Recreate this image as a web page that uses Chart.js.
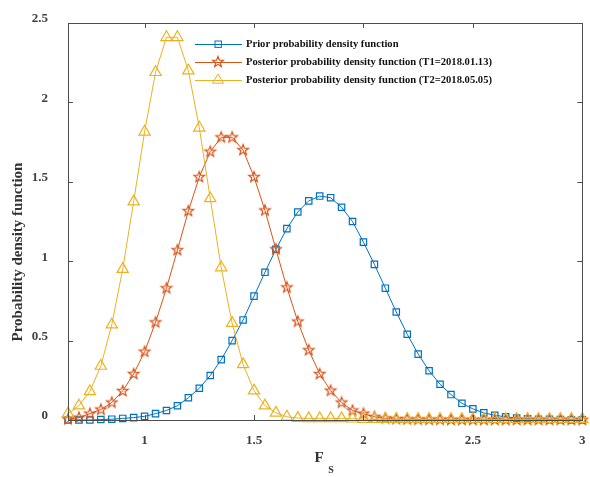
<!DOCTYPE html>
<html>
<head>
<meta charset="utf-8">
<script src="https://cdn.jsdelivr.net/npm/chart.js@4/dist/chart.umd.min.js"></script>
<style>
  html, body { margin: 0; padding: 0; background: #fff; }
  #wrap { width: 590px; height: 477px; position: relative; }
</style>
</head>
<body>
<div id="wrap"><canvas id="pdfChart"></canvas></div>
<script>
// F_S values (x positions of the markers)
var fsValues = [0.65,0.70,0.75,0.80,0.85,0.90,0.95,1.00,1.05,1.10,1.15,1.20,1.25,1.30,1.35,1.40,
                1.45,1.50,1.55,1.60,1.65,1.70,1.75,1.80,1.85,1.90,1.95,2.00,2.05,2.10,2.15,2.20,
                2.25,2.30,2.35,2.40,2.45,2.50,2.55,2.60,2.65,2.70,2.75,2.80,2.85,2.90,2.95,3.00];

var priorPdf = [0.000,0.000,0.000,0.003,0.005,0.010,0.015,0.023,0.040,0.060,0.090,0.140,0.200,0.280,0.380,0.500,
                0.630,0.780,0.930,1.075,1.205,1.310,1.380,1.410,1.400,1.340,1.250,1.120,0.980,0.830,0.680,0.540,
                0.415,0.310,0.225,0.160,0.105,0.070,0.045,0.030,0.020,0.012,0.008,0.005,0.004,0.003,0.002,0.002];

var postT1Pdf = [0.005,0.015,0.040,0.066,0.110,0.183,0.290,0.430,0.615,0.830,1.070,1.316,1.530,1.690,1.780,1.780,
                 1.700,1.530,1.320,1.075,0.835,0.620,0.440,0.290,0.185,0.110,0.060,0.040,0.020,0.010,0.006,0.004,
                 0.003,0.002,0.002,0.001,0.001,0.001,0.001,0.001,0.001,0.001,0.001,0.001,0.001,0.001,0.001,0.001];

var postT2Pdf = [0.040,0.090,0.180,0.340,0.600,0.950,1.375,1.815,2.190,2.410,2.410,2.200,1.840,1.395,0.960,0.610,
                 0.350,0.185,0.090,0.045,0.020,0.012,0.010,0.010,0.010,0.010,0.008,0.006,0.005,0.005,0.005,0.005,
                 0.005,0.005,0.005,0.005,0.005,0.005,0.005,0.005,0.005,0.005,0.005,0.005,0.005,0.005,0.005,0.005];

var seriesNames = ["Prior probability density function",
                   "Posterior probability density function (T1=2018.01.13)",
                   "Posterior probability density function (T2=2018.05.05)"];

var xTicks = [1, 1.5, 2, 2.5, 3];
var yTicks = [0, 0.5, 1, 1.5, 2, 2.5];

var FONT = '"Liberation Serif", "Times New Roman", serif';
var BLUE = '#0072BD', RED = '#D95319', YELLOW = '#EDB120';

function makeStar(color, r) {
    var size = Math.ceil(2 * r + 4);
    var c = document.createElement('canvas');
    c.width = size; c.height = size;
    var g = c.getContext('2d');
    var cx = size / 2, cy = size / 2;
    g.beginPath();
    for (var i = 0; i < 10; i++) {
        var ang = -Math.PI / 2 + i * Math.PI / 5;
        var rr = (i % 2) ? r * 0.42 : r;
        var px = cx + Math.cos(ang) * rr, py = cy + Math.sin(ang) * rr;
        if (i == 0) g.moveTo(px, py); else g.lineTo(px, py);
    }
    g.closePath();
    g.strokeStyle = color;
    g.lineWidth = 1.2;
    g.stroke();
    return c;
}
var starImg = makeStar(RED, 5.6);

function toPoints(ys) {
    return fsValues.map(function (x, i) { return { x: x, y: ys[i] }; });
}

// legend, axis box with inward ticks, axis titles
var matlabPlugin = {
    id: 'matlabLook',
    afterDraw: function (chart) {
        var ctx = chart.ctx, a = chart.chartArea;
        var xs = chart.scales.x, ys = chart.scales.y;
        ctx.save();
        ctx.strokeStyle = '#4d4d4d';
        ctx.lineWidth = 1;
        ctx.strokeRect(Math.round(a.left) + 0.5, Math.round(a.top) + 0.5,
                       Math.round(a.right - a.left), Math.round(a.bottom - a.top));
        ctx.beginPath();
        xTicks.forEach(function (v) {
            var px = Math.round(xs.getPixelForValue(v)) + 0.5;
            ctx.moveTo(px, a.bottom); ctx.lineTo(px, a.bottom - 5);
            ctx.moveTo(px, a.top); ctx.lineTo(px, a.top + 5);
        });
        yTicks.forEach(function (v) {
            var py = Math.round(ys.getPixelForValue(v)) + 0.5;
            ctx.moveTo(a.left, py); ctx.lineTo(a.left + 5, py);
            ctx.moveTo(a.right, py); ctx.lineTo(a.right - 5, py);
        });
        ctx.stroke();

        // axis titles
        ctx.fillStyle = '#333';
        ctx.font = 'bold 15px ' + FONT;
        ctx.textAlign = 'center';
        ctx.textBaseline = 'middle';
        ctx.fillText('F', 319, 458);
        ctx.font = 'bold 10px ' + FONT;
        ctx.fillText('S', 331, 470);
        ctx.save();
        ctx.translate(18, 252);
        ctx.rotate(-Math.PI / 2);
        ctx.font = 'bold 15px ' + FONT;
        ctx.fillText('Probability density function', 0, 0);
        ctx.restore();

        // legend
        var rows = [44, 62, 80];
        var colors = [BLUE, RED, YELLOW];
        ctx.font = 'bold 10.6px ' + FONT;
        ctx.textAlign = 'left';
        for (var i = 0; i < 3; i++) {
            var y = rows[i];
            ctx.strokeStyle = colors[i];
            ctx.lineWidth = 1;
            ctx.beginPath();
            ctx.moveTo(195, y + 0.5); ctx.lineTo(242, y + 0.5);
            ctx.stroke();
            if (i == 0) {
                ctx.strokeRect(215, y - 3, 6.4, 6.4);
            } else if (i == 1) {
                ctx.drawImage(starImg, 218 - starImg.width / 2, y - starImg.height / 2);
            } else {
                ctx.beginPath();
                ctx.moveTo(218, y - 6);
                ctx.lineTo(218 + 5.5, y + 3.2);
                ctx.lineTo(218 - 5.5, y + 3.2);
                ctx.closePath();
                ctx.stroke();
            }
            ctx.fillStyle = '#111';
            ctx.fillText(seriesNames[i], 246, y + 0.5);
        }
        ctx.restore();
    }
};

var pdfChart = null;
function showchart_pdf() {
    if (pdfChart != null) {
        pdfChart.destroy();
    }
    var ctx = document.getElementById('pdfChart');
    pdfChart = new Chart(ctx, {
        type: 'line',
        data: {
            datasets: [{
                label: seriesNames[0],
                data: toPoints(priorPdf),
                borderColor: BLUE,
                borderWidth: 1,
                pointStyle: 'rect',
                pointRadius: 4.5,
                pointBorderColor: BLUE,
                pointBorderWidth: 1.2,
                pointBackgroundColor: 'rgba(0,0,0,0)',
                order: 3,
                clip: false,
                fill: false
            }, {
                label: seriesNames[1],
                data: toPoints(postT1Pdf),
                borderColor: RED,
                borderWidth: 1,
                pointStyle: starImg,
                pointRadius: 5,
                order: 2,
                clip: false,
                fill: false
            }, {
                label: seriesNames[2],
                data: toPoints(postT2Pdf),
                borderColor: YELLOW,
                borderWidth: 1,
                pointStyle: 'triangle',
                pointRadius: 6.5,
                pointBorderColor: YELLOW,
                pointBorderWidth: 1.2,
                pointBackgroundColor: 'rgba(0,0,0,0)',
                order: 1,
                clip: false,
                fill: false
            }]
        },
        options: {
            animation: { duration: 0 },
            responsive: true,
            maintainAspectRatio: false,
            layout: { padding: { top: 23, right: 5, left: 0, bottom: 0 } },
            plugins: {
                legend: { display: false },
                tooltip: { enabled: false }
            },
            elements: { line: { tension: 0 } },
            scales: {
                x: {
                    type: 'linear',
                    min: 0.65,
                    max: 3,
                    grid: { display: false },
                    border: { display: false },
                    afterBuildTicks: function (scale) {
                        scale.ticks = xTicks.map(function (v) { return { value: v }; });
                    },
                    afterFit: function (scale) {
                        scale.height = 57;
                        scale.paddingRight = 0;
                        scale.paddingLeft = 0;
                    },
                    ticks: {
                        color: '#404040',
                        padding: 5,
                        font: { family: FONT, size: 13, weight: 'bold' },
                        callback: function (v) { return String(v); }
                    }
                },
                y: {
                    min: 0,
                    max: 2.5,
                    grid: { display: false },
                    border: { display: false },
                    afterBuildTicks: function (scale) {
                        scale.ticks = yTicks.map(function (v) { return { value: v }; });
                    },
                    afterFit: function (scale) { scale.width = 68; },
                    ticks: {
                        color: '#404040',
                        padding: 12,
                        labelOffset: -4,
                        font: { family: FONT, size: 13, weight: 'bold' },
                        callback: function (v) { return String(v); }
                    }
                }
            }
        },
        plugins: [matlabPlugin]
    });
}
showchart_pdf();
</script>
</body>
</html>
